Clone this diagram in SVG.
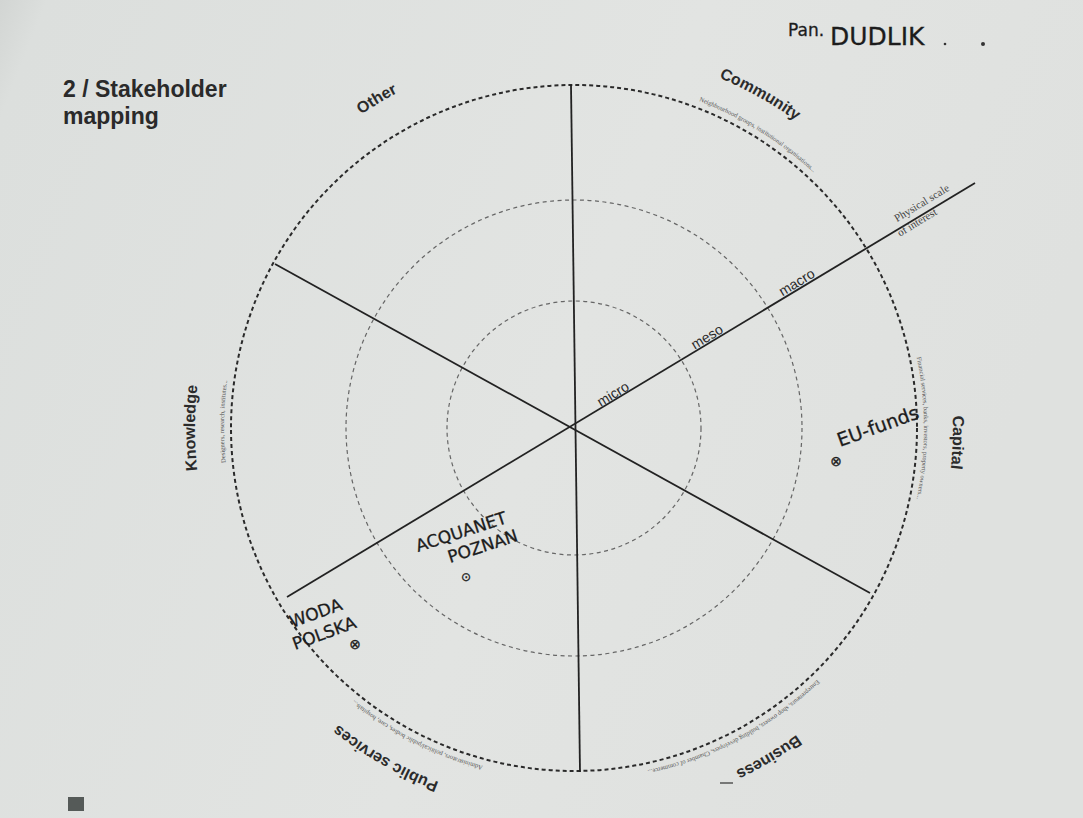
<svg xmlns="http://www.w3.org/2000/svg" width="1083" height="818" viewBox="0 0 1083 818">
<defs>
<linearGradient id="paper" x1="0" y1="0" x2="1" y2="0.3">
<stop offset="0" stop-color="#d2d5d3"/>
<stop offset="0.04" stop-color="#dcdfdd"/>
<stop offset="0.6" stop-color="#e2e4e2"/>
<stop offset="1" stop-color="#dfe1df"/>
</linearGradient>
<path id="lab" d="M 574 49 A 379 379 0 1 1 574 807 A 379 379 0 1 1 574 49"/>
<path id="sub" d="M 574 78 A 350 350 0 1 1 574 778 A 350 350 0 1 1 574 78"/>
<style>
.lbl{font-family:"Liberation Sans",Arial,sans-serif;font-weight:bold;font-size:16px;fill:#2b2b2b;}
.sub{font-family:"Liberation Serif","Times New Roman",serif;font-size:6.5px;fill:#555;}
.scale{font-family:"Liberation Sans",Arial,sans-serif;font-size:14px;fill:#2b2b2b;}
.hand{font-family:"DejaVu Sans",sans-serif;fill:#1c1c1c;stroke:#1c1c1c;stroke-width:0.3;}
.axis{stroke:#222;stroke-width:1.8;fill:none;}
.ring-o{fill:none;stroke:#2a2a2a;stroke-width:2;stroke-dasharray:4 3;}
.ring-i{fill:none;stroke:#666;stroke-width:1.2;stroke-dasharray:4 3.5;}
</style>
</defs>
<rect x="0" y="0" width="1083" height="818" fill="url(#paper)"/>

<g id="title">
<text x="63" y="97" font-family="Liberation Sans, Arial, sans-serif" font-weight="bold" font-size="23" fill="#2a2a2a">2 / Stakeholder</text>
<text x="63" y="124" font-family="Liberation Sans, Arial, sans-serif" font-weight="bold" font-size="23" fill="#2a2a2a">mapping</text>
</g>

<g id="rings">
<circle cx="574" cy="428" r="343" class="ring-o"/>
<circle cx="574" cy="428" r="228" class="ring-i"/>
<circle cx="574" cy="428" r="127" class="ring-i"/>
</g>

<g id="connectors">
<line x1="571" y1="85" x2="580" y2="772" class="axis"/>
<line x1="287" y1="597" x2="975" y2="183" class="axis"/>
<line x1="275" y1="264" x2="870" y2="593" class="axis"/>
</g>

<g id="scale-labels">
<g transform="translate(574,428) rotate(-31.3)">
<text x="51" y="-4" class="scale" text-anchor="middle">micro</text>
<text x="161" y="-4" class="scale" text-anchor="middle">meso</text>
<text x="266" y="-4" class="scale" text-anchor="middle">macro</text>
<text x="414" y="-8" font-family="Liberation Serif, serif" font-size="11" fill="#444" text-anchor="middle">Physical scale</text>
<text x="400" y="6" font-family="Liberation Serif, serif" font-size="11" fill="#444" text-anchor="middle">of interest</text>
</g>
</g>

<g id="node-community">
<text class="lbl"><textPath href="#lab" startOffset="8.1%" text-anchor="middle">Community</textPath></text>
<text class="sub"><textPath href="#sub" startOffset="8.9%" text-anchor="middle">Neighbourhood groups, institutional organisations...</textPath></text>
</g>
<g id="node-capital">
<text class="lbl"><textPath href="#lab" startOffset="25.6%" text-anchor="middle">Capital</textPath></text>
<text class="sub"><textPath href="#sub" startOffset="25%" text-anchor="middle">Financial services, banks, investors, property owners...</textPath></text>
</g>
<g id="node-business">
<text class="lbl"><textPath href="#lab" startOffset="41.5%" text-anchor="middle">Business</textPath></text>
<text class="sub"><textPath href="#sub" startOffset="42.2%" text-anchor="middle">Entrepreneurs, shop owners, building developers, Chamber of commerce...</textPath></text>
</g>
<g id="node-public-services">
<text class="lbl"><textPath href="#lab" startOffset="58.25%" text-anchor="middle">Public services</textPath></text>
<text class="sub"><textPath href="#sub" startOffset="57.5%" text-anchor="middle">Administrators, political/public bodies, care, hospitals...</textPath></text>
</g>
<g id="node-knowledge">
<text class="lbl"><textPath href="#lab" startOffset="75%" text-anchor="middle">Knowledge</textPath></text>
<text class="sub"><textPath href="#sub" startOffset="75.3%" text-anchor="middle">Designers, research, institutes...</textPath></text>
</g>
<g id="node-other">
<text class="lbl"><textPath href="#lab" startOffset="91.4%" text-anchor="middle">Other</textPath></text>
</g>

<g id="handwriting">
<g id="note-dudlik">
<text x="788" y="36" class="hand" font-size="17">Pan.</text>
<text x="830" y="45" class="hand" font-size="25">DUDLIK</text>
<circle cx="945" cy="44" r="1.3" fill="#333"/>
<circle cx="983" cy="44" r="2" fill="#333"/>
</g>
<g id="note-eu-funds">
<text x="840" y="447" class="hand" font-size="19" transform="rotate(-20 840 447)">EU-funds</text>
<text x="836" y="466" class="hand" font-size="14" text-anchor="middle">⊗</text>
</g>
<g id="note-acquanet">
<text x="418" y="552" class="hand" font-size="17" transform="rotate(-18 418 552)">ACQUANET</text>
<text x="450" y="563" class="hand" font-size="17" transform="rotate(-18 450 563)">POZNAN</text>
<text x="466" y="581" class="hand" font-size="12" text-anchor="middle">⊙</text>
</g>
<g id="note-woda">
<text x="292" y="628" class="hand" font-size="17" transform="rotate(-20 292 628)">WODA</text>
<text x="295" y="650" class="hand" font-size="17" transform="rotate(-20 295 650)">POLSKA</text>
<text x="355" y="649" class="hand" font-size="14" text-anchor="middle">⊗</text>
</g>
</g>

<g id="marks">
<line x1="720" y1="783" x2="733" y2="783" stroke="#555" stroke-width="1.5"/>
<rect x="68" y="797" width="16" height="14" fill="#555a58"/>
</g>
</svg>
